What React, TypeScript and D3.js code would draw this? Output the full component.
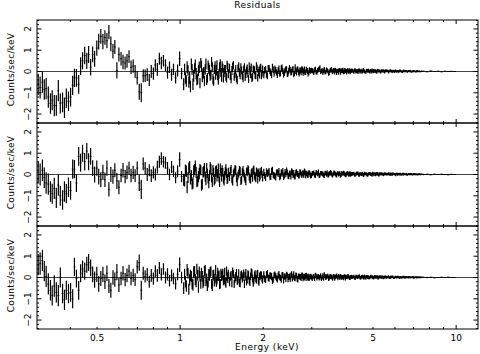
import React from 'react';
import * as d3 from 'd3';

// channel energies (keV)
const energy = [
  0.306, 0.311, 0.317, 0.322, 0.327, 0.333, 0.339, 0.344, 0.350, 0.356,
  0.362, 0.368, 0.375, 0.381, 0.387, 0.394, 0.401, 0.408, 0.414, 0.421,
  0.429, 0.436, 0.443, 0.451, 0.459, 0.466, 0.474, 0.482, 0.490, 0.499,
  0.507, 0.516, 0.525, 0.534, 0.543, 0.552, 0.561, 0.571, 0.580, 0.590,
  0.600, 0.611, 0.621, 0.632, 0.642, 0.653, 0.664, 0.676, 0.687, 0.699,
  0.711, 0.723, 0.735, 0.747, 0.760, 0.773, 0.786, 0.800, 0.813, 0.827,
  0.841, 0.855, 0.870, 0.885, 0.900, 0.915, 0.931, 0.946, 0.963, 0.979,
  0.996, 1.012, 1.030,
  1.045, 1.06, 1.075, 1.09, 1.105, 1.12, 1.135, 1.15, 1.165, 1.18, 1.195, 1.21, 1.225, 1.24, 1.255, 1.27,
  1.285, 1.3, 1.315, 1.33, 1.345, 1.36, 1.375, 1.39, 1.405, 1.42, 1.435, 1.45, 1.465, 1.48, 1.495,
  1.51, 1.53, 1.55, 1.57, 1.59, 1.61, 1.63, 1.65, 1.67, 1.69, 1.71, 1.73, 1.75, 1.77, 1.79, 1.81, 1.83,
  1.85, 1.87, 1.89, 1.91, 1.93, 1.95, 1.97, 1.99,
  2.01, 2.04, 2.07, 2.1, 2.13, 2.16, 2.19, 2.22, 2.25, 2.28, 2.31, 2.34, 2.37, 2.4, 2.43, 2.46, 2.49,
  2.52, 2.55, 2.58, 2.61, 2.64, 2.67, 2.7, 2.73, 2.76, 2.79, 2.82, 2.85, 2.88, 2.91, 2.94, 2.97,
  3.01, 3.05, 3.09, 3.13, 3.17, 3.21, 3.25, 3.29, 3.33, 3.37, 3.41, 3.45, 3.49, 3.53, 3.57, 3.61, 3.65,
  3.69, 3.73, 3.77, 3.81, 3.85, 3.89, 3.93, 3.97, 4.01, 4.05, 4.09, 4.13, 4.17,
  4.21, 4.26, 4.31, 4.36, 4.41, 4.46, 4.51, 4.56, 4.61, 4.66, 4.71, 4.76, 4.81, 4.86, 4.91, 4.96, 5.01,
  5.06, 5.11, 5.16, 5.21, 5.26, 5.31, 5.36, 5.41, 5.46, 5.51, 5.56,
  5.62, 5.69, 5.76, 5.83, 5.9, 5.97, 6.04, 6.11, 6.18, 6.25, 6.32, 6.39, 6.46, 6.53, 6.6, 6.67, 6.74,
  6.81, 6.88, 6.95, 7.02, 7.09, 7.16, 7.23, 7.3, 7.37, 7.44,
  7.6, 7.85, 8.1, 8.35, 8.6, 8.85, 9.1, 9.35, 9.6, 9.85,
];

// 1-sigma error, shared by all three fits
const errBar = [
  .5, .52, .5, .48, .5, .5, .48, .47, .5, .48,
  .5, .47, .46, .48, .45, .46, .44, .45, .43, .42,
  .44, .42, .4, .41, .38, .4, .39, .37, .38, .36,
  .37, .35, .36, .34, .36, .33, .35, .34, .33, .38,
  .33, .32, .34, .31, .32, .3, .32, .31, .3, .31,
  .38, .45, .3, .29, .3, .28, .3, .29, .28, .3,
  .28, .29, .27, .28, .29, .27, .28, .27, .26, .28,
  .34, .27, .28,
  .27, .28, .26, .27, .25, .28, .26, .25, .27, .24, .26, .25, .24, .26, .23, .25,
  .24, .23, .25, .22, .24, .23, .22, .24, .21, .23, .22, .21, .23, .2, .22,
  .21, .2, .22, .19, .21, .2, .19, .21, .18, .2, .19, .2, .18, .19, .2, .18, .19,
  .17, .19, .18, .17, .19, .18, .17, .18,
  .17, .16, .17, .15, .16, .17, .15, .16, .15, .16, .14, .15, .16, .14, .15, .14, .15,
  .14, .13, .15, .14, .13, .14, .13, .14, .13, .12, .14, .13, .12, .13, .12, .13,
  .12, .11, .12, .11, .12, .11, .1, .12, .11, .1, .11, .12, .1, .11, .1, .11, .1,
  .11, .1, .09, .11, .1, .09, .1, .1, .09, .1, .09, .1, .09,
  .09, .08, .09, .09, .08, .09, .08, .08, .09, .08, .07, .08, .08, .07, .08, .08, .07,
  .08, .07, .07, .08, .07, .07, .07, .06, .07, .07, .06,
  .06, .07, .06, .06, .06, .05, .06, .06, .05, .06, .05, .05, .06, .05, .05, .05, .04,
  .05, .05, .04, .05, .04, .04, .05, .04, .04, .04,
  .03, .03, .03, .025, .025, .02, .02, .02, .015, .015,
];

const residualsTop = [
  -.6, -.75, -.5, -.85, -.8, -1.2, -1.5, -1.35, -1.6, -1.6,
  -.9, -1.5, -1.45, -1.7, -1.25, -1.4, -1.2, -.65, -.3, -.3,
  -.6, .25, .5, .75, .5, .8, .2, .8, .6, 1.1,
  1.4, 1.65, 1.4, 1.6, 1.45, 1.85, 1.3, .95, 1.15, .05,
  .8, .6, .45, .4, .5, .7, .2, .25, 0, -.3,
  -.95, -1, -.2, -.2, -.15, -.4, 0, -.1, .3, .1,
  .6, .4, .5, .3, -.05, .2, -.15, .1, -.3, .05,
  .6, -.1, -.6,
  -.3, .2, -.5, -.7, .1, -.2, .3, -.4, .05, -.55, .25, -.1, -.45, .35, -.3, .15,
  -.2, .45, -.35, .1, -.15, .3, -.4, .2, -.05, .25, -.3, .1, -.2, .3, -.1,
  .15, -.35, .2, -.25, .1, -.4, .25, -.15, .05, -.3, .2, -.1, .15, -.35, .05, .2, -.25,
  .1, -.15, .25, -.3, .05, .15, -.2, .1,
  -.15, .1, -.2, .15, -.05, .2, -.1, .05, -.15, .12, -.08, .18, -.12, .05, .1, -.1, .15,
  -.05, .08, -.12, .2, -.06, .1, -.1, .05, .12, -.08, .1, -.04, .06, -.1, .08, .02,
  .05, -.06, .1, -.04, .08, .18, .02, -.05, .1, -.02, .06, -.08, .04, .1, -.03, .05, .08,
  -.06, .03, .07, -.04, .05, .09, -.02, .04, -.05, .06, .02, -.03, .05,
  .04, -.03, .06, .02, -.04, .05, .03, -.02, .07, .01, -.03, .04, .05, -.02, .03, .06, -.01,
  .02, .04, -.03, .05, .02, -.02, .04, .01, .03, -.02, .04,
  .03, -.02, .04, .01, .02, -.02, .03, .01, -.01, .03, .02, -.02, .03, .01, .02, -.01, .02,
  .03, -.01, .01, .02, .01, -.01, .02, .01, .01, 0,
  .01, -.01, .02, 0, .01, -.01, .01, 0, .01, 0,
];

const residualsMid = [
  .1, 0, .2, -.15, -.4, -.45, -.8, -.9, -.65, -1.1,
  -.5, -1, -1.2, -.8, -.9, -.6, -.75, .25, .25, -.4,
  .85, .55, 1, .6, 1.1, .6, .85, .3, 0, .3,
  -.1, -.25, .1, -.25, .3, -.7, 0, -.1, .2, -.3,
  -.6, -.05, .2, -.1, .1, .3, -.05, .1, -.05, .3,
  -.4, -.7, .5, .3, 0, .2, -.05, .1, 0, .35,
  .6, .75, .6, .55, .3, 0, .35, .15, -.15, .15,
  .7, -.1, -.25,
  .2, -.6, .3, -.2, -.45, .15, .4, -.35, -.1, .25, -.5, .1, .3, -.25, .05, -.4,
  .35, -.15, .2, -.3, .15, -.1, .3, -.35, .1, .2, -.2, -.05, .25, -.25, .1,
  -.1, .25, -.3, .1, .2, -.35, .05, .15, -.25, .2, -.1, -.3, .1, .2, -.2, .05, -.15,
  .25, -.1, .15, -.25, .1, -.05, .2, -.15,
  .1, -.15, .05, .15, -.1, .2, -.05, -.12, .1, .15, -.08, .05, -.1, .12, .18, -.06, .04,
  -.1, .1, .06, -.08, .12, .02, -.06, .1, -.04, .08, .14, -.05, .06, -.02, .08, -.06,
  .04, .08, -.05, .06, .12, -.03, .07, .02, -.06, .05, .09, -.02, .04, .06, -.04, .08, .03,
  -.03, .06, .02, -.04, .07, .03, .05, -.02, .04, .06, -.03, .05, .02,
  .03, .05, -.02, .04, .06, -.01, .03, .02, -.03, .05, .04, -.02, .03, .05, .01, -.02, .04,
  .03, -.01, .05, .02, -.02, .03, .04, .01, -.01, .03, .02,
  .02, .03, -.01, .02, .04, .01, -.02, .03, .02, .01, -.01, .03, .02, .01, .02, -.01, .03,
  .01, .02, -.01, .02, .01, .02, 0, .01, .02, .01,
  0, .01, -.01, .01, 0, .01, 0, -.01, .01, 0,
];

const residualsBottom = [
  .6, .65, .8, .3, .05, -.3, -.6, -.85, -.4, -.7,
  -.85, 0, -.75, -1.05, -.6, -.75, -.7, -1, .5, -.05,
  -.6, .2, .4, .3, .6, .7, .45, .15, -.1, .15,
  -.3, -.05, .15, -.2, .2, -.4, -.6, 0, -.1, .25,
  -.35, -.05, .2, -.1, .1, .3, -.05, .1, -.1, .5,
  .7, -.6, .2, .05, .15, -.2, .1, -.05, .3, .1,
  .45, .15, .4, 0, .15, -.15, .1, -.05, -.3, .15,
  .6, 0, -.5,
  -.2, .35, -.55, .1, -.3, .25, -.1, .4, -.45, .05, .2, -.25, .3, -.15, -.4, .15,
  .25, -.3, .1, -.2, .35, -.1, .05, -.3, .2, .1, -.15, .25, -.25, .05, .15,
  -.2, .1, .25, -.3, .05, -.15, .2, -.25, .15, .05, -.3, .2, -.1, .1, -.2, .25, -.05,
  -.15, .15, -.1, .2, -.2, .05, .1, -.1,
  .12, -.1, .18, -.05, .08, -.14, .1, .05, -.08, .15, -.02, .1, -.12, .06, .12, -.08, .04,
  .1, -.06, .14, -.04, .08, -.1, .06, .02, .1, -.06, .04, .08, -.04, .06, -.02, .05,
  -.04, .06, .1, -.03, .05, .02, -.06, .08, .14, -.02, .05, -.04, .07, .03, -.05, .06, .02,
  .08, -.03, .04, .06, -.02, .03, .05, -.04, .02, .06, .01, -.02, .04,
  .02, .05, -.03, .04, .02, .06, -.02, .03, .01, .05, -.03, .04, .02, -.01, .05, .03, -.02,
  .04, .01, .03, -.02, .04, .02, .01, .03, -.01, .02, .03,
  .01, .03, -.01, .02, .03, -.02, .02, .01, .03, -.01, .02, .01, .02, -.01, .02, .01, .03,
  0, .01, .02, -.01, .01, .02, .01, 0, .01, .01,
  .01, 0, .01, -.01, 0, .01, 0, .01, 0, 0,
];

// second detector / interleaved channels, 1 - 7.5 keV
const energyB = [
  1.038, 1.053, 1.068, 1.083, 1.098, 1.113, 1.128, 1.143, 1.158, 1.173, 1.188, 1.203, 1.218, 1.233, 1.248, 1.263,
  1.278, 1.293, 1.308, 1.323, 1.338, 1.353, 1.368, 1.383, 1.398, 1.413, 1.428, 1.443, 1.458, 1.473, 1.488,
  1.52, 1.54, 1.56, 1.58, 1.6, 1.62, 1.64, 1.66, 1.68, 1.7, 1.72, 1.74, 1.76, 1.78, 1.8, 1.82,
  1.84, 1.86, 1.88, 1.9, 1.92, 1.94, 1.96, 1.98,
  2.025, 2.055, 2.085, 2.115, 2.145, 2.175, 2.205, 2.235, 2.265, 2.295, 2.325, 2.355, 2.385, 2.415, 2.445, 2.475,
  2.505, 2.535, 2.565, 2.595, 2.625, 2.655, 2.685, 2.715, 2.745, 2.775, 2.805, 2.835, 2.865, 2.895, 2.925, 2.955, 2.99,
  3.03, 3.07, 3.11, 3.15, 3.19, 3.23, 3.27, 3.31, 3.35, 3.39, 3.43, 3.47, 3.51, 3.55, 3.59,
  3.63, 3.67, 3.71, 3.75, 3.79, 3.83, 3.87, 3.91, 3.95, 3.99, 4.03, 4.07, 4.11, 4.15, 4.19,
  4.235, 4.285, 4.335, 4.385, 4.435, 4.485, 4.535, 4.585, 4.635, 4.685, 4.735, 4.785, 4.835, 4.885,
  4.935, 4.985, 5.035, 5.085, 5.135, 5.185, 5.235, 5.285, 5.335, 5.385, 5.435, 5.485, 5.535, 5.59,
  5.655, 5.725, 5.795, 5.865, 5.935, 6.005, 6.075, 6.145, 6.215, 6.285, 6.355, 6.425, 6.495, 6.565,
  6.635, 6.705, 6.775, 6.845, 6.915, 6.985, 7.055, 7.125, 7.195, 7.265, 7.335, 7.405, 7.5,
];

const errBarB = [
  .26, .27, .25, .28, .26, .27, .24, .26, .25, .27, .23, .25, .26, .24, .24, .22,
  .25, .23, .24, .22, .23, .24, .21, .23, .22, .23, .21, .22, .2, .22, .21,
  .2, .21, .19, .2, .2, .18, .2, .19, .19, .18, .2, .18, .19, .18, .17, .19,
  .18, .18, .17, .18, .17, .18, .16, .17,
  .16, .17, .16, .15, .17, .15, .16, .14, .16, .15, .15, .14, .15, .15, .14, .14,
  .13, .15, .14, .13, .14, .14, .13, .13, .12, .14, .13, .13, .12, .13, .12, .12, .12,
  .11, .12, .11, .11, .12, .1, .11, .11, .1, .11, .1, .11, .11, .1, .1,
  .11, .1, .09, .1, .1, .1, .09, .1, .09, .1, .09, .09, .1, .09, .09,
  .08, .09, .08, .09, .08, .08, .09, .08, .08, .07, .08, .08, .07, .08,
  .07, .08, .07, .07, .08, .07, .07, .06, .07, .07, .06, .07, .06, .06,
  .06, .06, .07, .06, .05, .06, .06, .05, .06, .05, .05, .06, .05, .05,
  .05, .04, .05, .05, .04, .05, .04, .05, .04, .04, .04, .04, .035,
];

const residualsTopB = [
  .1, -.45, .05, -.3, .35, -.6, .15, -.1, -.35, .2, .4, -.25, -.05, .1, -.4, .3,
  .05, -.15, .2, -.45, .25, .05, -.2, -.1, .35, -.25, .15, -.05, .1, -.3, .2,
  -.2, .05, .3, -.1, -.3, .15, -.05, .2, -.2, .1, -.25, .05, -.1, .25, -.15, -.3,
  .1, .05, -.2, .15, -.05, -.15, .2, -.1,
  .05, -.12, .15, .02, -.15, .08, .12, -.05, .04, -.1, .14, .02, -.06, .1, -.12, .04,
  .08, -.02, .12, -.08, .02, .1, -.04, .06, -.06, .08, .02, -.05, .1, .03, -.06, .04, .06,
  .02, .07, -.03, .05, .12, -.02, .06, .03, -.04, .08, .02, -.05, .06, .01, .07,
  -.03, .04, .02, -.05, .06, .03, .01, -.03, .07, .02, .04, -.02, .05, .01, .03,
  .02, .05, -.01, .03, .06, -.02, .04, .01, .03, -.03, .05, .02, .01, .04,
  -.02, .03, .05, .01, -.01, .04, .02, .03, -.01, .02, .04, 0, .02, .03,
  .02, .01, .03, -.01, .02, .03, 0, .02, .01, .03, -.01, .02, .01, .02,
  0, .03, .01, .01, -.01, .02, .01, 0, .02, .01, .01, 0, .01,
];

const residualsMidB = [
  -.3, .15, -.15, .35, -.05, -.4, .25, .1, -.3, .05, .2, -.45, .15, -.1, .3, -.2,
  -.05, .25, -.35, .1, -.2, .2, .05, -.15, .3, -.1, .1, -.3, .15, .05, -.2,
  .15, -.2, .05, .25, -.15, -.05, .2, -.3, .1, .05, -.2, .15, .25, -.1, -.25, .1,
  .2, -.05, -.2, .1, .05, -.15, .15, .02,
  -.05, .12, .08, -.1, .15, -.02, -.08, .1, .04, -.12, .1, .16, -.04, .02, .1, -.08,
  .06, .14, -.02, -.1, .08, .04, -.06, .12, .02, .06, -.04, .1, .04, -.02, .08, .02, -.04,
  .06, -.02, .1, .03, -.05, .07, .04, -.03, .08, .02, -.04, .06, .1, -.02, .04,
  .07, -.03, .05, .01, .06, -.02, .04, .08, .01, -.03, .05, .02, .04, -.01, .03,
  .04, -.01, .03, .05, -.02, .04, .02, .05, -.01, .03, .02, -.02, .04, .03,
  .01, .05, -.01, .02, .03, .01, -.02, .04, .02, .03, 0, .02, .03, .01,
  .01, .03, .02, -.01, .03, .01, .02, -.01, .02, .03, .01, 0, .02, .01,
  -.01, .02, .01, .02, 0, .01, .02, .01, 0, .01, .02, 0, .01,
];

const residualsBottomB = [
  .15, -.4, .2, -.1, .05, -.35, .3, -.2, .1, .25, -.3, .05, -.15, .35, -.05, -.25,
  .1, .3, -.4, .15, -.05, -.2, .25, .1, -.3, .05, .2, -.1, -.2, .3, -.05,
  .05, -.25, .15, -.05, .2, -.1, -.25, .1, -.05, .2, .05, -.2, .15, -.15, .05, .2,
  -.25, .1, -.05, .15, -.15, .05, .15, -.05,
  -.06, .14, -.02, .1, .04, -.1, .12, -.04, .08, .02, -.1, .12, .04, -.06, .1, .02,
  -.08, .14, .04, -.02, .1, -.06, .06, .02, -.04, .08, .04, -.02, .1, .02, -.04, .06, .02,
  .03, -.05, .08, .04, -.02, .1, .01, -.04, .06, .03, .08, -.02, .04, .01, .06,
  -.04, .05, .03, .07, -.02, .04, .02, -.03, .06, .03, .01, .05, -.02, .03, .02,
  .03, -.02, .05, .02, .04, -.01, .03, .05, -.02, .02, .04, .01, -.02, .03,
  .04, .01, -.01, .03, .02, .04, -.01, .02, .03, 0, .02, .01, .03, 0,
  .02, 0, .02, .03, -.01, .02, .01, .03, 0, .02, -.01, .02, .01, .02,
  .01, -.01, .02, .01, 0, .02, .01, .01, -.01, .01, .02, 0, .01,
];

const xMajorTicks = [1, 10];
const xMinorTicks = [0.4, 0.5, 0.6, 0.7, 0.8, 0.9, 2, 3, 4, 5, 6, 7, 8, 9];
const xTickLabels = [0.5, 1, 2, 5, 10];
const yTickLabels = [-2, -1, 0, 1, 2];

const W = 480;
const H = 354;
const LEFT = 37;
const RIGHT = 478;
const TOP = 20;
const PANEL_H = 103;
const Y_LIM = 2.42;
const FONT = "'DejaVu Sans', 'Liberation Sans', sans-serif";

const fmt = (v: number) => String(v).replace('-', '\u2212');

type Pt = { e: number; err: number; r: number[] };

function collect(en: number[], er: number[], a: number[], b: number[], c: number[]): Pt[] {
  const n = Math.min(en.length, er.length, a.length, b.length, c.length);
  const out: Pt[] = [];
  for (let i = 0; i < n; i++) out.push({ e: en[i], err: er[i], r: [a[i], b[i], c[i]] });
  return out;
}

export default function App() {
  const x = d3.scaleLog().domain([0.303, 12]).range([LEFT, RIGHT]);

  const pts = collect(energy, errBar, residualsTop, residualsMid, residualsBottom)
    .concat(collect(energyB, errBarB, residualsTopB, residualsMidB, residualsBottomB))
    .sort((p, q) => p.e - q.e);
  const n = pts.length;

  // bin edges halfway (in log) between neighbouring channels
  const edges = pts.map((p, i) => {
    const e = p.e;
    const prev = i > 0 ? pts[i - 1].e : (e * e) / pts[i + 1].e;
    const next = i < n - 1 ? pts[i + 1].e : (e * e) / pts[i - 1].e;
    return [Math.sqrt(prev * e), Math.sqrt(e * next)];
  });

  return (
    <svg width={W} height={H} style={{ position: 'absolute', left: 0, top: 0, background: '#fff' }}>
      <rect width={W} height={H} fill="#fff" />
      <text x={(LEFT + RIGHT) / 2} y={8} fontSize={9} fontFamily={FONT} letterSpacing={0.4}
        textAnchor="middle">Residuals</text>

      {[0, 1, 2].map((p) => {
        const y0 = TOP + p * PANEL_H;
        const y1 = y0 + PANEL_H;
        const y = d3.scaleLinear().domain([-Y_LIM, Y_LIM]).range([y1, y0]);
        let bars = '';
        let bins = '';
        pts.forEach((pt, i) => {
          const r = pt.r[p];
          const xi = x(pt.e);
          bars += `M${xi.toFixed(2)},${y(r - pt.err).toFixed(2)}V${y(r + pt.err).toFixed(2)}`;
          bins += `M${x(edges[i][0]).toFixed(2)},${y(r).toFixed(2)}H${x(edges[i][1]).toFixed(2)}`;
        });
        const yTicks = y.ticks(25);
        const midY = (y0 + y1) / 2 - 2;
        return (
          <g key={p}>
            <clipPath id={`clip${p}`}>
              <rect x={LEFT} y={y0} width={RIGHT - LEFT} height={PANEL_H} />
            </clipPath>
            <line x1={LEFT} x2={RIGHT} y1={y(0)} y2={y(0)} stroke="#444" strokeWidth={1} />
            <g clipPath={`url(#clip${p})`} fill="none">
              <path d={bars} stroke="#000" strokeWidth={1.2} />
              <path d={bins} stroke="#000" strokeWidth={0.8} />
            </g>
            <rect x={LEFT} y={y0} width={RIGHT - LEFT} height={PANEL_H} fill="none" stroke="#000" strokeWidth={1} />
            {xMajorTicks.concat(xMinorTicks).map((t) => {
              const len = xMajorTicks.includes(t) ? 4 : 2;
              return (
                <g key={`x${t}`} stroke="#000" strokeWidth={1}>
                  <line x1={x(t)} x2={x(t)} y1={y0} y2={y0 + len} />
                  <line x1={x(t)} x2={x(t)} y1={y1} y2={y1 - len} />
                </g>
              );
            })}
            {yTicks.map((t) => {
              const len = Math.abs(t - Math.round(t)) < 1e-6 ? 4.5 : 2;
              return (
                <g key={`y${t}`} stroke="#000" strokeWidth={1}>
                  <line x1={LEFT} x2={LEFT + len} y1={y(t)} y2={y(t)} />
                  <line x1={RIGHT} x2={RIGHT - len} y1={y(t)} y2={y(t)} />
                </g>
              );
            })}
            {yTickLabels.map((t) => (
              <text key={`yl${t}`} transform={`translate(31,${y(t)}) rotate(-90)`} fontSize={9}
                fontFamily={FONT} textAnchor="middle">{fmt(t)}</text>
            ))}
            <text transform={`translate(14,${midY}) rotate(-90)`} fontSize={9} fontFamily={FONT}
              letterSpacing={0.3} textAnchor="middle">Counts/sec/keV</text>
          </g>
        );
      })}

      {xTickLabels.map((t) => (
        <text key={`xl${t}`} x={x(t)} y={340.5} fontSize={9} fontFamily={FONT} textAnchor="middle">{t}</text>
      ))}
      <text x={267} y={350} fontSize={9} fontFamily={FONT} letterSpacing={0.5} textAnchor="middle">Energy (keV)</text>
    </svg>
  );
}
